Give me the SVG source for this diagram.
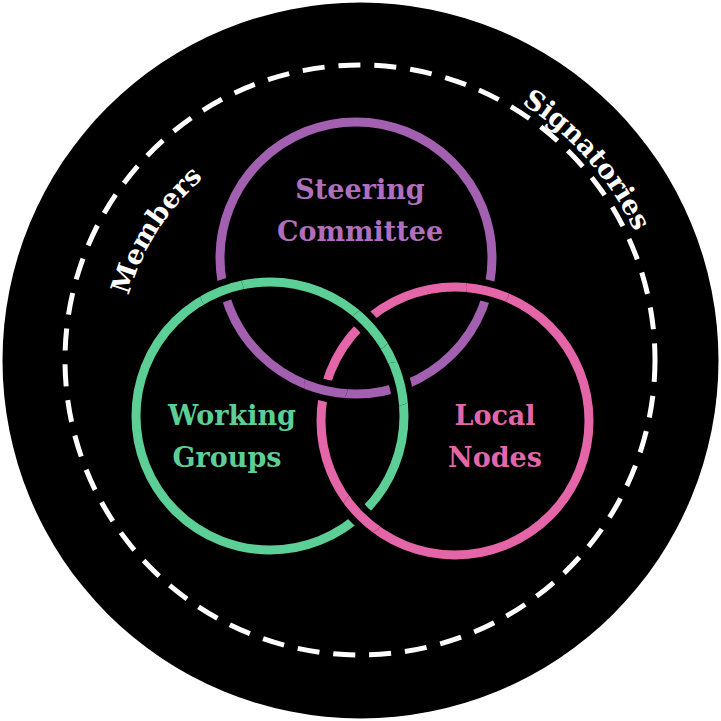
<svg xmlns="http://www.w3.org/2000/svg" width="721" height="721" viewBox="0 0 721 721">
<style>
.lbl{font-family:"DejaVu Serif","Liberation Serif",serif;font-size:27px;font-weight:bold;text-anchor:middle}
.ring{fill:none;stroke-width:9}
.halo{fill:none;stroke:#000;stroke-width:22}
.arc{font-family:"DejaVu Serif","Liberation Serif",serif;font-size:27px;font-weight:bold;fill:#fff;text-anchor:middle}
</style>
<defs>
<path id="mArc" d="M 120,360 A 240 240 0 0 1 600,360"/>
<path id="sArc" d="M 57,360 A 303 303 0 0 1 663,360"/>
<clipPath id="c1"><circle cx="222" cy="292" r="22"/></clipPath>
<clipPath id="c2"><circle cx="396" cy="384" r="22"/></clipPath>
<clipPath id="c3"><circle cx="326" cy="386" r="22"/></clipPath>
<clipPath id="c4"><circle cx="488" cy="288" r="22"/></clipPath>
<clipPath id="c5"><circle cx="370" cy="330" r="22"/></clipPath>
<clipPath id="c6"><circle cx="364" cy="512" r="22"/></clipPath>
</defs>
<circle cx="360.5" cy="360.5" r="358" fill="#000"/>
<circle cx="360" cy="360" r="295" fill="none" stroke="#fff" stroke-width="5" stroke-dasharray="22 14"/>
<g id="steering">
<circle class="ring" cx="356" cy="258" r="136" stroke="#a35fb0"/>
<text class="lbl" x="360" y="199" fill="#b06fbd">Steering</text>
<text class="lbl" x="360" y="241" fill="#b06fbd">Committee</text>
</g>
<g id="working">
<circle class="ring" cx="270" cy="416" r="134" stroke="#5ccf96"/>
<text class="lbl" x="232" y="425" fill="#5ccf96">Working</text>
<text class="lbl" x="227" y="467" fill="#5ccf96">Groups</text>
</g>
<g id="local">
<circle class="ring" cx="455" cy="421" r="134" stroke="#e466a8"/>
<text class="lbl" x="495" y="425" fill="#e466a8">Local</text>
<text class="lbl" x="495" y="467" fill="#e466a8">Nodes</text>
</g>
<g id="weave">
<g clip-path="url(#c1)"><circle class="halo" cx="270" cy="416" r="134"/><circle class="ring" cx="270" cy="416" r="134" stroke="#5ccf96"/></g>
<g clip-path="url(#c2)"><circle class="halo" cx="270" cy="416" r="134"/><circle class="ring" cx="270" cy="416" r="134" stroke="#5ccf96"/></g>
<g clip-path="url(#c5)"><circle class="halo" cx="270" cy="416" r="134"/><circle class="ring" cx="270" cy="416" r="134" stroke="#5ccf96"/></g>
<g clip-path="url(#c3)"><circle class="halo" cx="356" cy="258" r="136"/><circle class="ring" cx="356" cy="258" r="136" stroke="#a35fb0"/></g>
<g clip-path="url(#c4)"><circle class="halo" cx="455" cy="421" r="134"/><circle class="ring" cx="455" cy="421" r="134" stroke="#e466a8"/></g>
<g clip-path="url(#c6)"><circle class="halo" cx="455" cy="421" r="134"/><circle class="ring" cx="455" cy="421" r="134" stroke="#e466a8"/></g>
</g>
<g id="members"><text class="arc"><textPath href="#mArc" startOffset="18%">Members</textPath></text></g>
<g id="signatories"><text class="arc"><textPath href="#sArc" startOffset="77%">Signatories</textPath></text></g>
</svg>
